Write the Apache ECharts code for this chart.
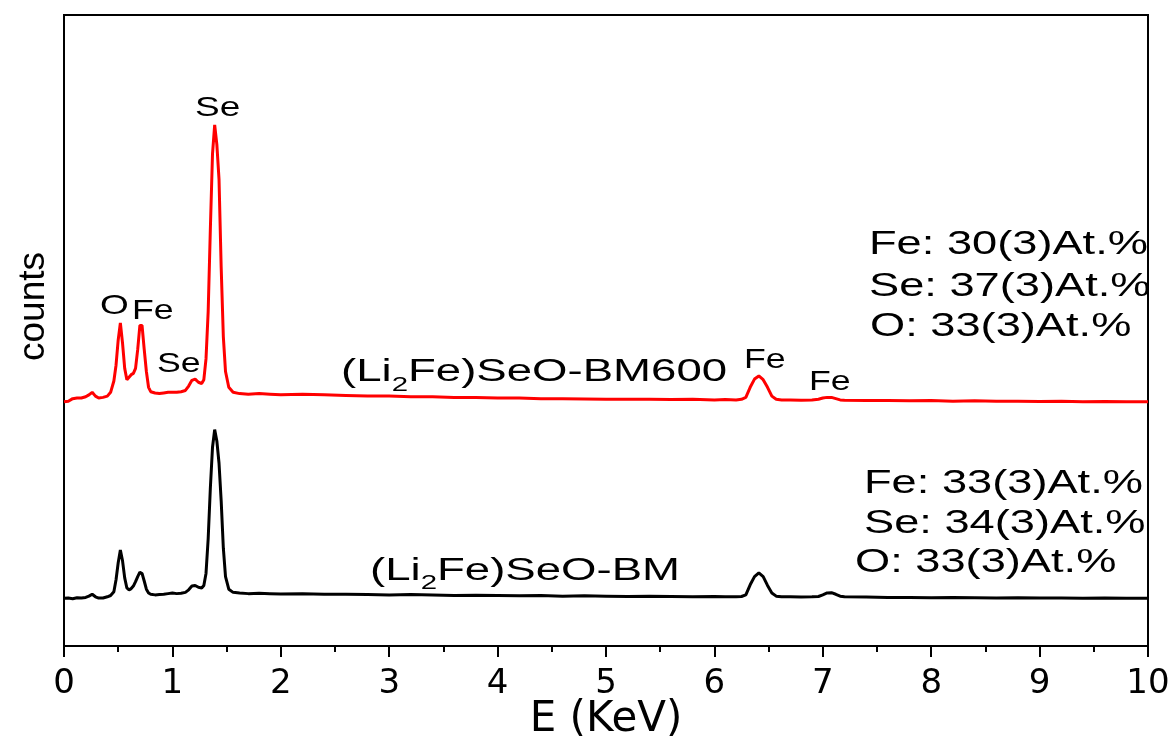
<!DOCTYPE html>
<html>
<head>
<meta charset="utf-8">
<script src="https://cdn.jsdelivr.net/npm/echarts@6/dist/echarts.min.js"></script>
<style>
html,body{margin:0;padding:0;background:#fff;}
#chart{width:1173px;height:740px;}
</style>
</head>
<body>
<div id="chart"></div>
<script>
// ---- data ----
const energy = [0.00,0.04,0.08,0.12,0.16,0.20,0.23,0.26,0.29,0.32,0.36,0.40,0.43,0.46,0.48,0.50,0.52,0.54,0.56,0.58,
0.60,0.62,0.64,0.66,0.68,0.70,0.72,0.74,0.76,0.78,0.80,0.84,0.88,0.92,0.96,1.00,1.04,1.08,1.12,1.15,
1.18,1.21,1.24,1.27,1.29,1.31,1.33,1.35,1.37,1.39,1.41,1.43,1.45,1.47,1.49,1.52,1.56,1.62,1.70,1.80,
1.90,2.00,2.20,2.40,2.60,2.80,3.00,3.20,3.40,3.60,3.80,4.00,4.20,4.40,4.60,4.80,5.00,5.20,5.40,5.60,
5.80,6.00,6.10,6.20,6.25,6.29,6.33,6.37,6.41,6.45,6.49,6.53,6.57,6.62,6.70,6.80,6.90,6.96,7.00,7.04,
7.08,7.12,7.16,7.20,7.40,7.60,7.80,8.00,8.20,8.40,8.60,8.80,9.00,9.20,9.40,9.60,9.80,10.00];

const countsBM600 = [38.7,38.8,39.2,39.3,39.3,39.5,39.8,40.2,39.6,39.3,39.4,39.6,40.2,42.0,44.5,48.5,51.2,48.0,44.0,42.2,
42.6,43.0,43.2,44.0,47.0,50.8,50.8,47.0,43.5,41.0,40.3,40.1,40.0,40.1,40.2,40.2,40.2,40.3,40.5,41.2,
42.1,42.3,41.8,41.6,42.2,45.5,53.0,66.0,78.0,82.6,79.5,74.0,60.0,49.0,43.5,41.0,40.2,40.0,39.9,40.0,
39.9,39.8,39.9,39.8,39.7,39.6,39.6,39.5,39.5,39.4,39.4,39.3,39.3,39.2,39.2,39.15,39.1,39.1,39.1,39.05,
39.1,39.0,39.05,39.0,39.1,39.4,41.0,42.3,42.8,42.2,41.0,39.6,39.1,39.0,39.0,38.95,39.0,39.1,39.3,39.4,
39.4,39.2,39.0,38.95,38.9,38.9,38.85,38.9,38.8,38.85,38.8,38.8,38.75,38.8,38.7,38.75,38.7,38.7];

const countsBM = [7.55,7.6,7.5,7.65,7.6,7.7,7.9,8.2,7.8,7.6,7.6,7.8,8.0,8.6,10.5,13.2,15.2,13.5,10.8,9.2,
8.9,9.1,9.5,10.2,11.0,11.7,11.5,10.3,9.0,8.4,8.2,8.1,8.15,8.2,8.3,8.4,8.3,8.35,8.5,8.9,
9.5,9.6,9.3,9.2,9.6,11.5,17.0,25.0,31.5,34.3,32.5,29.0,23.0,15.5,11.0,9.0,8.5,8.4,8.3,8.35,
8.3,8.25,8.3,8.2,8.2,8.15,8.1,8.15,8.1,8.0,8.05,8.0,7.95,8.0,7.9,7.95,7.9,7.85,7.9,7.85,
7.8,7.85,7.8,7.8,7.85,8.1,9.7,11.0,11.6,11.0,9.6,8.4,7.9,7.8,7.8,7.75,7.8,7.85,8.1,8.4,
8.45,8.2,7.9,7.8,7.75,7.7,7.7,7.65,7.7,7.65,7.6,7.65,7.6,7.6,7.55,7.6,7.55,7.55];

const xTicks = {min: 0, max: 10, step: 1};
const axisTitles = {x: 'E (KeV)', y: 'counts'};

// annotation texts
const peakLabels = ['Se', 'O', 'Fe', 'Se', 'Fe', 'Fe'];
const sampleNames = ['(Li{s|2}Fe)SeO-BM600', '(Li{s|2}Fe)SeO-BM'];
const compBM600 = ['Fe: 30(3)At.%', 'Se: 37(3)At.%', 'O: 33(3)At.%'];
const compBM = ['Fe: 33(3)At.%', 'Se: 34(3)At.%', 'O: 33(3)At.%'];

// ---- layout (pixels) ----
const peakPos = [[195,108,28],[100,306,28],[132,311.5,27],[157,365,27],[744,361,27],[809,383,27]];
const namePos = [[341,372.5],[370,571]];
const compPos600 = [[869,245],[869,287],[870,327]];
const compPosBM = [[864,484],[864,524],[855,563]];

const FONT = 'Liberation Sans, Arial, sans-serif';
const graphics = [];
peakLabels.forEach((t,i)=>{
  graphics.push({type:'text', x:peakPos[i][0], y:peakPos[i][1], scaleX:1.32, z:100,
    style:{text:t, fontSize:peakPos[i][2], fontFamily:FONT, fill:'#000', align:'left', verticalAlign:'middle'}});
});
sampleNames.forEach((t,i)=>{
  graphics.push({type:'text', x:namePos[i][0], y:namePos[i][1], scaleX:1.47, z:100,
    style:{text:'{n|' + t.replace('{s|2}','}{s|2}{n|') + '}', align:'left', verticalAlign:'middle',
      rich:{n:{fontSize:31, fontFamily:FONT, fill:'#000'},
            s:{fontSize:20, fontFamily:FONT, fill:'#000', padding:[25,0,0,0]}}}});
});
compBM600.forEach((t,i)=>{
  graphics.push({type:'text', x:compPos600[i][0], y:compPos600[i][1], scaleX:1.33, z:100,
    style:{text:t, fontSize:34, fontFamily:FONT, fill:'#000', align:'left', verticalAlign:'middle'}});
});
compBM.forEach((t,i)=>{
  graphics.push({type:'text', x:compPosBM[i][0], y:compPosBM[i][1], scaleX:1.33, z:100,
    style:{text:t, fontSize:34, fontFamily:FONT, fill:'#000', align:'left', verticalAlign:'middle'}});
});

const chart = echarts.init(document.getElementById('chart'), null, {renderer:'canvas'});
chart.setOption({
  backgroundColor:'#fff',
  animation:false,
  grid:{left:64, right:25, top:15, bottom:94, containLabel:false, outerBoundsMode:'none',
        show:true, borderColor:'#000', borderWidth:2, backgroundColor:'transparent'},
  xAxis:{
    type:'value', min:xTicks.min, max:xTicks.max, interval:xTicks.step,
    axisLine:{show:true, onZero:false, lineStyle:{color:'#000', width:2}},
    axisTick:{show:true, inside:false, length:11, lineStyle:{color:'#000', width:2}},
    minorTick:{show:true, splitNumber:2, length:6, lineStyle:{color:'#000', width:2}},
    splitLine:{show:false}, minorSplitLine:{show:false},
    axisLabel:{color:'#000', fontSize:34, fontFamily:'DejaVu Sans', margin:21},
    name:axisTitles.x, nameLocation:'middle', nameGap:53, nameMoveOverlap:false,
    nameTextStyle:{color:'#000', fontSize:42, fontFamily:'DejaVu Sans'}
  },
  yAxis:{
    type:'value', min:0, max:100,
    axisLine:{show:true, lineStyle:{color:'#000', width:2}},
    axisTick:{show:false}, axisLabel:{show:false}, splitLine:{show:false},
    name:axisTitles.y, nameLocation:'middle', nameGap:12,
    nameTextStyle:{color:'#000', fontSize:37, fontFamily:FONT, padding:[0,0,0,48]}
  },
  series:[
    {type:'line', name:'BM600', data:energy.map((e,i)=>[e,countsBM600[i]]), showSymbol:false,
     lineStyle:{color:'#ff0000', width:3}, itemStyle:{color:'#ff0000'}},
    {type:'line', name:'BM', data:energy.map((e,i)=>[e,countsBM[i]]), showSymbol:false,
     lineStyle:{color:'#000', width:3}, itemStyle:{color:'#000'}}
  ],
  graphic:graphics
});
</script>
</body>
</html>
